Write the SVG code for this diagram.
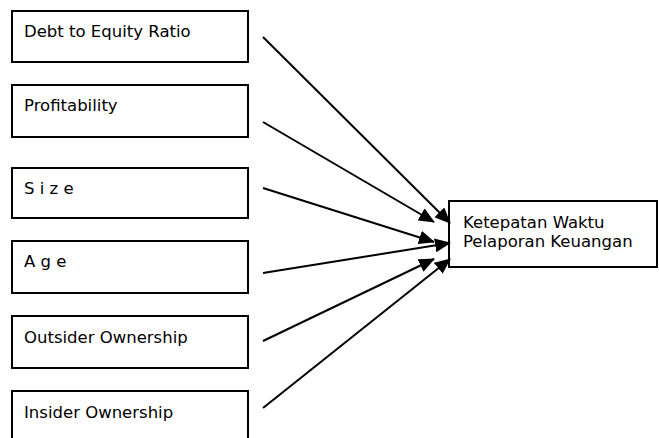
<svg xmlns="http://www.w3.org/2000/svg" width="659" height="438" viewBox="0 0 659 438">
<defs>
<marker id="ah" markerWidth="16" markerHeight="14" refX="15" refY="7" orient="auto" markerUnits="userSpaceOnUse">
<path d="M0,0 L16,7 L0,14 z" fill="#000"/>
</marker>
<style>
.box{fill:#fff;stroke:#000;stroke-width:2}
.t{font-family:"DejaVu Sans",Verdana,sans-serif;font-size:16.5px;fill:#000}
.c{stroke:#000;stroke-width:2;fill:none;marker-end:url(#ah)}
</style>
</defs>
<rect width="659" height="438" fill="#fff"/>
<g id="n1"><rect class="box" x="12" y="11" width="236" height="51"/><text class="t" x="24" y="37">Debt to Equity Ratio</text></g>
<g id="n2"><rect class="box" x="12" y="85" width="236" height="52"/><text class="t" x="24" y="111">Profitability</text></g>
<g id="n3"><rect class="box" x="12" y="168" width="236" height="50"/><text class="t" x="24" y="194">S i z e</text></g>
<g id="n4"><rect class="box" x="12" y="241" width="236" height="52"/><text class="t" x="24" y="267">A g e</text></g>
<g id="n5"><rect class="box" x="12" y="316" width="236" height="52"/><text class="t" x="24" y="343">Outsider Ownership</text></g>
<g id="n6"><rect class="box" x="12" y="391" width="236" height="60"/><text class="t" x="24" y="418">Insider Ownership</text></g>
<g id="n7"><rect class="box" x="449" y="201" width="208" height="66"/><text class="t" x="463" y="228">Ketepatan Waktu</text><text class="t" x="463" y="247">Pelaporan Keuangan</text></g>
<g id="connectors">
<line class="c" x1="263" y1="37" x2="450" y2="223"/>
<line class="c" x1="263" y1="122" x2="434" y2="222"/>
<line class="c" x1="263" y1="188" x2="434" y2="242"/>
<line class="c" x1="263" y1="273" x2="450" y2="243"/>
<line class="c" x1="263" y1="341" x2="434" y2="259"/>
<line class="c" x1="263" y1="408" x2="450" y2="259"/>
</g>
</svg>
